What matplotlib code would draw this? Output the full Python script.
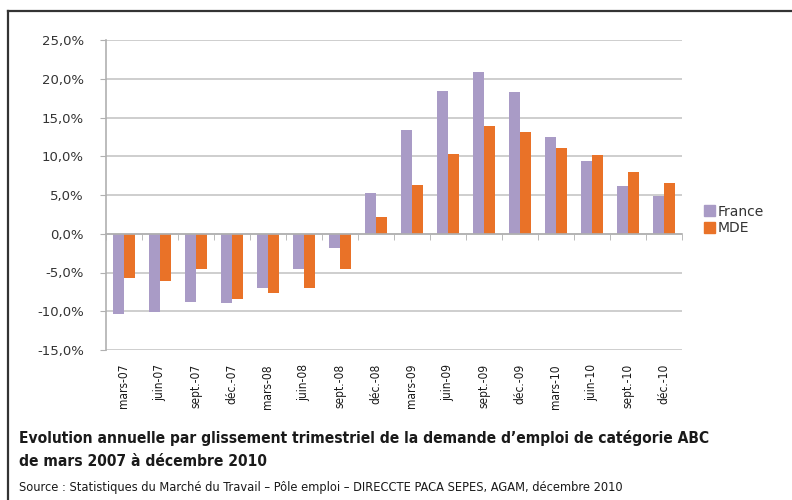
import matplotlib
matplotlib.use("Agg")
import matplotlib.pyplot as plt
import numpy as np
from matplotlib.ticker import FuncFormatter
from matplotlib.lines import Line2D

categories = ["mars-07", "juin-07", "sept.-07", "déc.-07", "mars-08", "juin-08",
              "sept.-08", "déc.-08", "mars-09", "juin-09", "sept.-09", "déc.-09",
              "mars-10", "juin-10", "sept.-10", "déc.-10"]
france = [-10.3, -10.1, -8.8, -8.9, -7.0, -4.6, -1.9, 5.3, 13.4, 18.4, 20.9, 18.3,
          12.5, 9.4, 6.2, 4.9]
mde = [-5.7, -6.1, -4.5, -8.4, -7.6, -7.0, -4.6, 2.1, 6.3, 10.3, 13.9, 13.1,
       11.1, 10.2, 8.0, 6.6]
series_names = ["France", "MDE"]
yticks = [-15, -10, -5, 0, 5, 10, 15, 20, 25]

c_fr = "#A99BC6"
c_mde = "#E97228"
grid_c = "#C6C6C6"
cond = dict(family="DejaVu Sans", stretch="condensed")

fig = plt.figure(figsize=(7.92, 5.0), dpi=100)
ax = fig.add_axes([106/792, 1-350/500, (682-106)/792, (350-40)/500])

x = np.arange(len(categories))
w = 0.305
ax.bar(x - w/2, france, w, color=c_fr, label=series_names[0], zorder=3)
ax.bar(x + w/2, mde, w, color=c_mde, label=series_names[1], zorder=3)

ax.set_xlim(-0.5, len(categories) - 0.5)
ax.set_ylim(-15, 25)
ax.set_yticks(yticks)
ax.yaxis.set_major_formatter(FuncFormatter(lambda v, p: f"{v:.1f}%".replace(".", ",")))
ax.grid(axis="y", color=grid_c, linewidth=1.2, zorder=0)
ax.set_axisbelow(True)

for s in ["top", "right"]:
    ax.spines[s].set_visible(False)
ax.spines["left"].set_color("#B0B0B0")
ax.spines["left"].set_linewidth(1.2)
ax.spines["bottom"].set_position(("data", 0))
ax.spines["bottom"].set_color("#B0B0B0")
ax.spines["bottom"].set_linewidth(1.2)
ax.spines["bottom"].set_zorder(4)

ax.set_xticks(x)
ax.set_xticks(np.arange(-0.5, len(categories)), minor=True)
ax.tick_params(axis="x", which="major", length=0, labelbottom=False)
ax.tick_params(axis="x", which="minor", length=4, color="#B0B0B0", direction="out")
ax.tick_params(axis="y", length=4, color="#B0B0B0", labelsize=9.5, labelcolor="#333333", pad=12)

sec = ax.secondary_xaxis("bottom")
sec.set_xticks(x, categories)
sec.spines["bottom"].set_visible(False)
sec.tick_params(length=0, pad=10, labelsize=8.6, labelcolor="#1a1a1a")
for lab in sec.get_xticklabels():
    lab.set_rotation(90)
    lab.set_family("DejaVu Sans")
    lab.set_stretch("condensed")
    lab.set_va("top")

handles = [plt.Rectangle((0, 0), 1, 1, color=c_fr), plt.Rectangle((0, 0), 1, 1, color=c_mde)]
fig.legend(handles, series_names, loc="upper left", bbox_to_anchor=(691/792, 1-192/500),
           frameon=False, handlelength=0.8, handleheight=0.8, handletextpad=0.2,
           labelspacing=0.2, fontsize=10, labelcolor="#333333")

# frame lines
fig.add_artist(Line2D([8/792, 8/792], [0, 1-11/500], transform=fig.transFigure, color="#333333", lw=1.6))
fig.add_artist(Line2D([8/792, 1], [1-11/500, 1-11/500], transform=fig.transFigure, color="#333333", lw=1.6))

t1 = fig.text(19/792, 1-438/500, "Evolution annuelle par glissement trimestriel de la demande d\u2019emploi de catégorie ABC",
              fontsize=13.5, fontweight="bold", color="#1a1a1a", va="center", **cond)
t2 = fig.text(19/792, 1-461/500, "de mars 2007 à décembre 2010",
              fontsize=13.5, fontweight="bold", color="#1a1a1a", va="center", **cond)
t3 = fig.text(19/792, 1-487/500, "Source : Statistiques du Marché du Travail \u2013 Pôle emploi \u2013 DIRECCTE PACA SEPES, AGAM, décembre 2010",
              fontsize=10, color="#1a1a1a", va="center", **cond)

# fit title widths to the reference's line lengths
r = fig.canvas.get_renderer()
wd = t1.get_window_extent(r).width
fs = 13.5 * 694 / wd
t1.set_fontsize(fs)
t2.set_fontsize(fs)
wd3 = t3.get_window_extent(r).width
t3.set_fontsize(10 * (627 - 19) / wd3)

fig.savefig("out.png", dpi=100)
